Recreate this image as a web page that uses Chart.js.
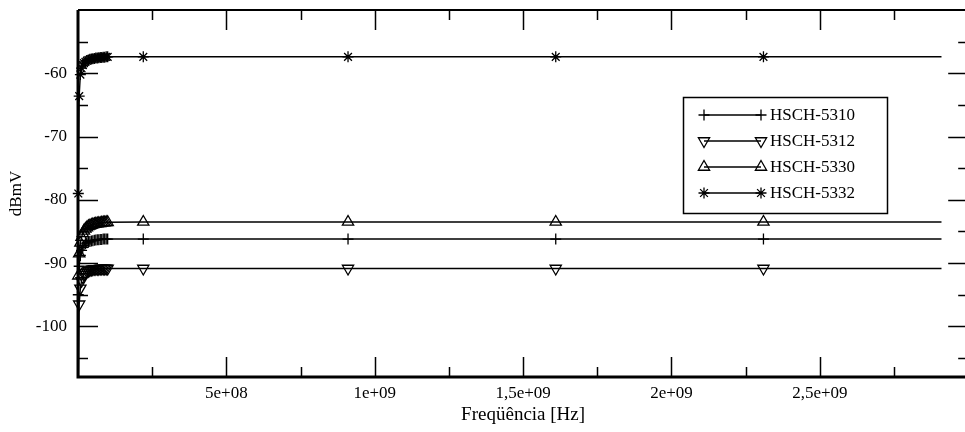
<!DOCTYPE html>
<html>
<head>
<meta charset="utf-8">
<script src="https://cdn.jsdelivr.net/npm/chart.js@4.4.0/dist/chart.umd.min.js"></script>
<style>
  html, body { margin: 0; padding: 0; background: #fff; overflow: hidden; }
  #wrap { width: 976px; height: 432px; }
</style>
</head>
<body>
<div id="wrap"><canvas id="chart" width="976" height="432"></canvas></div>
<script>
// frequência (Hz): amostras densas até 100 MHz, depois poucas
const freqHz = [1e6, 4e6, 8e6, 1.2e7, 1.6e7, 2e7, 2.5e7, 3e7, 3.5e7, 4e7, 4.5e7, 5e7, 5.5e7, 6e7,
                6.5e7, 7e7, 7.5e7, 8e7, 8.5e7, 9e7, 9.5e7, 1e8, 2.2e8, 9.1e8, 1.61e9, 2.31e9, 2.91e9];

const hsch5310 = [-95, -90.5, -88.8, -88.0, -87.5, -87.2, -86.95, -86.8, -86.7, -86.6, -86.5, -86.45, -86.4, -86.35,
                  -86.3, -86.3, -86.25, -86.25, -86.2, -86.2, -86.2, -86.2, -86.2, -86.2, -86.2, -86.2, -86.2];
const hsch5312 = [-112, -96.5, -94.0, -92.8, -92.2, -91.8, -91.5, -91.3, -91.2, -91.1, -91.0, -90.95, -90.9, -90.9,
                  -90.9, -90.9, -90.85, -90.85, -90.85, -90.85, -90.85, -90.85, -90.85, -90.85, -90.85, -90.85, -90.85];
const hsch5330 = [-92, -88.5, -86.8, -85.9, -85.3, -84.9, -84.6, -84.4, -84.2, -84.1, -84.0, -83.9, -83.85, -83.8,
                  -83.75, -83.7, -83.7, -83.65, -83.6, -83.6, -83.55, -83.55, -83.5, -83.5, -83.5, -83.5, -83.5];
const hsch5332 = [-79, -63.6, -60.2, -59.2, -58.7, -58.4, -58.2, -58.0, -57.9, -57.8, -57.75, -57.7, -57.65, -57.6,
                  -57.6, -57.55, -57.5, -57.5, -57.45, -57.45, -57.4, -57.4, -57.4, -57.4, -57.4, -57.4, -57.4];

const seriesNames = ['HSCH-5310', 'HSCH-5312', 'HSCH-5330', 'HSCH-5332'];

const xTickValues = [5e8, 1e9, 1.5e9, 2e9, 2.5e9];
const xTickLabels = ['5e+08', '1e+09', '1,5e+09', '2e+09', '2,5e+09'];
const yTickValues = [-100, -90, -80, -70, -60];
const yTickLabels = ['-100', '-90', '-80', '-70', '-60'];

const X_MIN = 0, X_MAX = 3e9, Y_MIN = -108, Y_MAX = -50;
const FONT = "'Liberation Serif', 'Times New Roman', serif";

function points(values) {
    return values.map((v, i) => ({ x: freqHz[i], y: v }));
}

// raio do marcador; o último ponto fica sem marcador
function radii(r) {
    return freqHz.map((_, i) => (i === freqHz.length - 1 ? 0 : r));
}

function makeSet(label, values, style, rotation, r) {
    return {
        label: label,
        data: points(values),
        borderColor: '#000',
        borderWidth: 1.4,
        backgroundColor: 'rgba(0,0,0,0)',
        pointStyle: style,
        pointRotation: rotation,
        pointRadius: radii(r),
        pointBorderColor: '#000',
        pointBackgroundColor: 'rgba(0,0,0,0)',
        pointBorderWidth: 1.3,
        tension: 0,
        clip: { left: 8, top: 8, right: 8, bottom: 0 }
    };
}

// moldura com marcas internas nos quatro lados
const frameTicks = {
    id: 'frameTicks',
    afterDatasetsDraw(chart) {
        const { ctx, chartArea: a, scales: { x, y } } = chart;
        ctx.save();
        ctx.strokeStyle = '#000';
        ctx.lineWidth = 1.5;
        ctx.beginPath();
        for (let v = 2.5e8; v < X_MAX; v += 2.5e8) {
            const px = Math.round(x.getPixelForValue(v)) + 0.5;
            const len = v % 5e8 === 0 ? 20 : 10;
            ctx.moveTo(px, a.bottom); ctx.lineTo(px, a.bottom - len);
            ctx.moveTo(px, a.top); ctx.lineTo(px, a.top + len);
        }
        for (let v = -105; v < Y_MAX; v += 5) {
            const py = Math.round(y.getPixelForValue(v)) + 0.5;
            const len = v % 10 === 0 ? 20 : 10;
            ctx.moveTo(a.left, py); ctx.lineTo(a.left + len, py);
            ctx.moveTo(a.right, py); ctx.lineTo(a.right - len, py);
        }
        ctx.stroke();
        ctx.lineWidth = 2;
        ctx.beginPath();
        ctx.moveTo(a.left, a.top); ctx.lineTo(a.right, a.top); ctx.lineTo(a.right, a.bottom);
        ctx.stroke();
        ctx.lineWidth = 3;
        ctx.beginPath();
        ctx.moveTo(a.left, a.top); ctx.lineTo(a.left, a.bottom); ctx.lineTo(a.right, a.bottom);
        ctx.stroke();
        ctx.restore();
    }
};

// legenda em caixa, com marcador nas duas pontas da linha
const boxLegend = {
    id: 'boxLegend',
    afterDraw(chart) {
        const ctx = chart.ctx;
        const bx = 683, by = 97, bw = 204, bh = 116;
        ctx.save();
        ctx.fillStyle = '#fff';
        ctx.fillRect(bx, by, bw, bh);
        ctx.strokeStyle = '#000';
        ctx.lineWidth = 1.5;
        ctx.strokeRect(bx + 0.5, by + 0.5, bw, bh);
        chart.data.datasets.forEach((ds, i) => {
            const cy = by + 18 + i * 26;
            const x0 = 704, x1 = 761;
            ctx.lineWidth = 1.4;
            ctx.beginPath();
            ctx.moveTo(x0, cy); ctx.lineTo(x1, cy);
            ctx.stroke();
            ctx.lineWidth = 1.3;
            ctx.fillStyle = 'rgba(0,0,0,0)';
            [x0, x1].forEach(px => {
                Chart.helpers.drawPoint(ctx, {
                    pointStyle: ds.pointStyle, rotation: ds.pointRotation,
                    radius: ds.pointRadius[0], borderWidth: 1.3
                }, px, cy);
            });
            ctx.fillStyle = '#000';
            ctx.font = '17px ' + FONT;
            ctx.textAlign = 'left';
            ctx.textBaseline = 'middle';
            ctx.fillText(ds.label, 770, cy + 1);
        });
        ctx.restore();
    }
};

new Chart(document.getElementById('chart'), {
    type: 'line',
    data: {
        datasets: [
            makeSet(seriesNames[0], hsch5310, 'cross', 0, 5.5),
            makeSet(seriesNames[1], hsch5312, 'triangle', 180, 6.5),
            makeSet(seriesNames[2], hsch5330, 'triangle', 0, 6.5),
            makeSet(seriesNames[3], hsch5332, 'star', 0, 5.5)
        ]
    },
    options: {
        responsive: false,
        animation: false,
        events: [],
        layout: { padding: { top: 10, right: 4, bottom: 0, left: 0 } },
        plugins: { legend: { display: false }, tooltip: { enabled: false } },
        scales: {
            x: {
                type: 'linear',
                min: X_MIN,
                max: X_MAX,
                afterBuildTicks: s => { s.ticks = xTickValues.map(v => ({ value: v })); },
                afterFit: s => { s.height = 55; s.paddingLeft = 0; s.paddingRight = 0; },
                grid: { display: false, drawTicks: false },
                border: { display: false },
                ticks: {
                    color: '#000',
                    padding: 6,
                    maxRotation: 0,
                    font: { family: FONT, size: 17 },
                    callback: v => xTickLabels[xTickValues.indexOf(v)]
                },
                title: {
                    display: true,
                    text: 'Freqüência [Hz]',
                    color: '#000',
                    font: { family: FONT, size: 19 },
                    padding: { top: 0, bottom: 6 }
                }
            },
            y: {
                type: 'linear',
                min: Y_MIN,
                max: Y_MAX,
                afterBuildTicks: s => { s.ticks = yTickValues.map(v => ({ value: v })); },
                afterFit: s => { s.width = 78; s.paddingTop = 0; s.paddingBottom = 0; },
                grid: { display: false, drawTicks: false },
                border: { display: false },
                ticks: {
                    color: '#000',
                    padding: 11,
                    font: { family: FONT, size: 17 },
                    callback: v => yTickLabels[yTickValues.indexOf(v)]
                },
                title: {
                    display: true,
                    text: 'dBmV',
                    color: '#000',
                    font: { family: FONT, size: 17 },
                    padding: { top: 6, bottom: 0 }
                }
            }
        }
    },
    plugins: [frameTicks, boxLegend]
});
</script>
</body>
</html>
